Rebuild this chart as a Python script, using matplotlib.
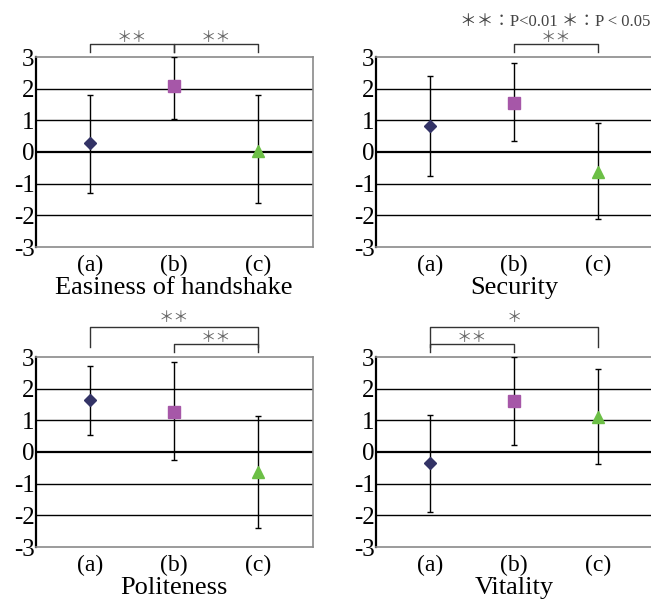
import matplotlib
matplotlib.use("Agg")
import matplotlib.pyplot as plt

# ---- data ----
categories = ["(a)", "(b)", "(c)"]
titles = ["Easiness of handshake", "Security", "Politeness", "Vitality"]
means = [
    [0.30, 2.10, 0.04],
    [0.82, 1.54, -0.62],
    [1.64, 1.26, -0.64],
    [-0.36, 1.61, 1.09],
]
err_upper = [
    [1.80, 2.99, 1.80],
    [2.39, 2.80, 0.93],
    [2.73, 2.84, 1.15],
    [1.18, 2.99, 2.62],
]
err_lower = [
    [-1.31, 1.03, -1.62],
    [-0.76, 0.34, -2.10],
    [0.55, -0.26, -2.41],
    [-1.88, 0.22, -0.37],
]
# significance brackets per panel: (i, j, label, level)  level 0 = low, 1 = high
brackets = [
    [(0, 1, "＊＊", 0), (1, 2, "＊＊", 0)],
    [(1, 2, "＊＊", 0)],
    [(1, 2, "＊＊", 0), (0, 2, "＊＊", 1)],
    [(0, 1, "＊＊", 0), (0, 2, "＊", 1)],
]
yticks = [-3, -2, -1, 0, 1, 2, 3]
legend_text = "＊＊：P<0.01 ＊：P < 0.05"

marker_styles = ["D", "s", "^"]
marker_sizes = [5.8, 8.2, 8.0]
marker_colors = ["#333366", "#A657A8", "#6CBF46"]

SERIF = ["Liberation Serif", "Noto Sans CJK JP"]
STAR = ["Noto Sans CJK JP", "Liberation Serif"]

W, H = 651, 604
fig = plt.figure(figsize=(W / 100, H / 100), dpi=100)

# axes boxes in pixels: (left, top, right, bottom)
boxes = [
    (36, 57, 313, 247),
    (376, 57, 653, 247),
    (36, 357, 313, 547),
    (376, 357, 653, 547),
]

for k, (l, t, r, b) in enumerate(boxes):
    ax = fig.add_axes([l / W, 1 - b / H, (r - l) / W, (b - t) / H])
    ax.set_xlim(-0.645, 2.655)
    ax.set_ylim(-3, 3)
    for y in [-2, -1, 1, 2]:
        ax.axhline(y, color="black", lw=1.0, zorder=1)
    ax.axhline(0, color="black", lw=1.6, zorder=1)
    for s in ["top", "right", "bottom"]:
        ax.spines[s].set_color("#8a8a8a")
        ax.spines[s].set_linewidth(1.2)
    ax.spines["left"].set_color("black")
    ax.spines["left"].set_linewidth(1.6)

    xs = list(range(len(categories)))
    for i in xs:
        m = means[k][i]
        ax.errorbar(i, m, yerr=[[m - err_lower[k][i]], [err_upper[k][i] - m]],
                    fmt="none", ecolor="black", elinewidth=1.0, capsize=2.0,
                    capthick=1.0, zorder=3)
        ax.plot(i, m, marker=marker_styles[i], ms=marker_sizes[i],
                color=marker_colors[i], mec=marker_colors[i], ls="none", zorder=4)

    hpx = b - t
    ax.set_xticks(xs)
    ax.set_xticklabels([])
    for i, c in zip(xs, categories):
        ax.text(i, -18 / hpx, c, transform=ax.get_xaxis_transform(), ha="center",
                va="center", fontsize=17, family=SERIF)
    ax.text(1.0, -41 / hpx, titles[k], transform=ax.get_xaxis_transform(),
            ha="center", va="center", fontsize=19, family=SERIF)
    ax.set_yticks(yticks)
    ax.set_yticklabels([str(v) for v in yticks], fontsize=18, family=SERIF)
    ax.tick_params(axis="both", length=0, pad=1)

    # brackets
    unit = hpx / 6.0  # px per unit
    for (i, j, lab, lev) in brackets[k]:
        if lev == 0:
            ybar = 3 + 13 / unit
            ytick = 3 + 5 / unit
            ytxt = 3 + 20 / unit
        else:
            ybar = 3 + 30 / unit
            ytick = 3 + 10 / unit
            ytxt = 3 + 39 / unit
        ax.plot([i, i, j, j], [ytick, ybar, ybar, ytick], color="#333333",
                lw=1.0, clip_on=False, zorder=5)
        ax.text((i + j) / 2, ytxt, lab, ha="center", va="center", fontsize=11,
                color="#666666", family=STAR, clip_on=False)

fig.text(460 / W, 1 - 22 / H, legend_text, ha="left", va="center",
         fontsize=12, color="#444444", family=SERIF)

fig.savefig("out.png", dpi=100)
